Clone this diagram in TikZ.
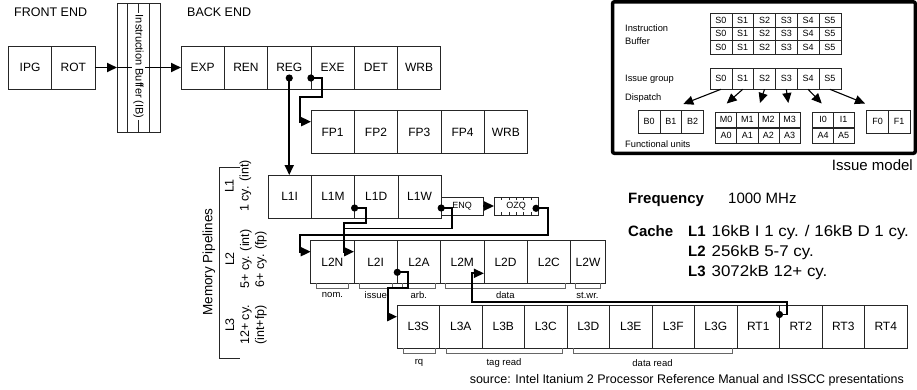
\documentclass[tikz,border=0pt]{standalone}
\usepackage{fontspec}
\setmainfont{Liberation Sans}
\newfontfamily\widesans[FakeStretch=1.09]{Liberation Sans}
\usetikzlibrary{arrows.meta,positioning}

\tikzset{
  stage/.style={draw=black!85, line width=0.8pt, minimum width=43.3pt, minimum height=43pt,
    inner sep=0pt, outer sep=0pt, font=\fontsize{12}{14}\selectfont},
  cell/.style={draw=black!85, line width=0.6pt, minimum width=21.8pt, minimum height=13.7pt,
    inner sep=0pt, outer sep=0pt, font=\fontsize{9}{10}\selectfont},
  fucell/.style={cell, minimum width=21.1pt, minimum height=15pt},
  conn/.style={line width=1.8pt, -{Triangle[length=10pt,width=9pt]}},
  link/.style={line width=1.8pt},
  dispatch/.style={line width=1.1pt, -{Triangle[length=10pt,width=9pt]}},
  steplabel/.style={font=\fontsize{9.5}{11}\selectfont, inner sep=0pt},
  spanline/.style={draw=black!60, line width=1pt},
  info/.style={font=\fontsize{15}{17}\selectfont, anchor=base west, inner sep=0pt},
  infob/.style={info, font=\fontsize{15}{17}\selectfont\bfseries},
  infow/.style={info, font=\widesans\fontsize{15.5}{17}\selectfont},
  title/.style={font=\fontsize{12.5}{14}\selectfont, anchor=west, inner sep=0pt},
  small/.style={font=\fontsize{9.3}{13.3}\selectfont, anchor=west, align=left, inner sep=0pt},
  level/.style={rotate=90, align=center, inner sep=0pt, font=\fontsize{12.5}{15}\selectfont},
}

\begin{document}
\begin{tikzpicture}[x=1pt, y=-1pt]
  \useasboundingbox (0,0) rectangle (917,389);

  \node[title] (fe) at (14,12) {FRONT END};
  \node[title] (be) at (187,12) {BACK END};

  \node[stage] (IPG) at (30,67.5) {IPG};
  \node[stage, right=0pt of IPG] (ROT) {ROT};

  \node[draw=black!85, line width=0.8pt, minimum width=43pt, minimum height=129pt, outer sep=0pt] (IB) at (138.5,67.5) {};
  \foreach \xx in {127.5,138.5,149.5}
    \draw[black!85, line width=0.8pt] (\xx,3) -- (\xx,132);

  \foreach \n [count=\i from 0] in {EXP,REN,REG,EXE,DET,WRB}
    \node[stage] (\n) at (202.65+43.3*\i,67.5) {\n};

  \draw[thin] (IB.west) -- (IB.center);
  \draw[conn] (ROT.east) -- (IB.west);
  \draw[conn] (IB.center) -- (EXP.west);
  \node[rotate=-90, fill=white, inner sep=1.5pt, font=\fontsize{11}{13}\selectfont] (IBtxt) at (138.5,66.7) {Instruction Buffer (IB)};

  \foreach \n/\t [count=\i from 0] in {FP1/FP1,FP2/FP2,FP3/FP3,FP4/FP4,FWRB/WRB}
    \node[stage] (\n) at (332.65+43.3*\i,132) {\t};

  \foreach \n [count=\i from 0] in {L1I,L1M,L1D,L1W}
    \node[stage] (\n) at (289.65+43.3*\i,196.5) {\n};
  \node[draw=black!85, line width=0.8pt, minimum width=42pt, minimum height=18pt, inner sep=0pt, outer sep=0pt,
    anchor=west, font=\fontsize{9}{10}\selectfont] (ENQ) at ([yshift=-9.5pt]L1W.east) {ENQ};
  \node[draw=black!85, line width=0.8pt, minimum width=44.3pt, minimum height=18pt, inner sep=0pt, outer sep=0pt,
    font=\fontsize{9}{10}\selectfont] (OZQ) at (516.2,206) {OZQ};
  \foreach \k in {1,...,5} {
    \draw[black!85, line width=0.6pt] (494+7.4*\k,197) -- ++(0,3);
    \draw[black!85, line width=0.6pt] (494+7.4*\k,215) -- ++(0,-3);
  }

  \foreach \n [count=\i from 0] in {L2N,L2I,L2A,L2M,L2D,L2C}
    \node[stage] (\n) at (332.35+43.3*\i,262) {\n};
  \node[stage, minimum width=35pt, right=0pt of L2C] (L2W) {L2W};
  \foreach \a/\b/\t [count=\k] in {316.7/348.3/nom., 359.3/392.3/issue, 402.7/435/arb., 445.7/565/data, 575/600/st.wr.} {
    \draw[spanline] (\a,283.3) -- (\a,288.3) -- (\b,288.3) -- (\b,283.3);
    \node[steplabel] (tagL2\k) at ({(\a+\b)/2},295) {\t};
  }

  \foreach \n [count=\i from 0] in {L3S,L3A,L3B,L3C,L3D,L3E,L3F,L3G,RT1,RT2,RT3,RT4}
    \node[stage, minimum width=42.5pt] (\n) at (418.25+42.5*\i,326.5) {\n};
  \foreach \a/\b/\t [count=\k] in {403/435/rq, 446/562/tag read, 573/732/data read} {
    \draw[spanline] (\a,348) -- (\a,353) -- (\b,353) -- (\b,348);
    \node[steplabel] (tagL3\k) at ({(\a+\b)/2},363) {\t};
  }

  \node[rotate=90, inner sep=0pt, font=\fontsize{13.5}{15}\selectfont] (mp) at (209,262) {Memory Pipelines};
  \draw[black!85, line width=0.8pt] (240,167) -- (219.3,167) -- (219.3,358) -- (240,358);
  \node[level] (lvl1) at (238,186) {L1\\1 cy. (int)};
  \node[level] (lvl2) at (246,259) {L2\\5+ cy. (int)\\6+ cy. (fp)};
  \node[level] (lvl3) at (246,325) {L3\\12+ cy.\\(int+fp)};

  \coordinate (dREG) at ([yshift=-10.5pt]REG.center);
  \coordinate (dEXE) at ([yshift=-10.5pt]EXE.west);
  \coordinate (dL1D) at ([yshift=-11.5pt]L1D.west);
  \coordinate (dL1W) at ([yshift=-11.5pt]L1W.east);
  \coordinate (dOZQ) at ([xshift=-2.3pt,yshift=-2.3pt]OZQ.east);
  \coordinate (dL2A) at ([yshift=-10.3pt]L2A.west);
  \coordinate (dRT2) at ([yshift=12pt]RT2.west);

  \draw[conn] (dREG) -- (dREG |- L1I.north);
  \draw[conn] (dEXE) -- ++(10.7,0) -- ++(0,19) -- ++(-21.7,0) |- ([yshift=10.3pt]FP1.west);
  \draw[conn] (ENQ.east) -- (OZQ.west);
  \draw[conn] (dL1D) -- ++(11,0) -- ++(0,15.3) -- ++(-22,0) |- ([yshift=10.3pt]L2I.west);
  \draw[link] (dL1W) -- ++(11,0) -- ++(0,20.5) -- (343,228.5);
  \draw[conn] (dOZQ) -- ++(11.7,0) -- ++(0,26.7) -- (300,235) |- ([yshift=10.3pt]L2N.west);
  \draw[conn] (dL2A) -- ++(11,0) -- ++(0,15.4) -- ++(-20.6,0) |- ([yshift=9.8pt]L3S.west);
  \draw[conn] (dRT2) -- ++(7.5,0) -- ++(0,-12.8) -- (471.7,301.7) |- ([yshift=-11.3pt]L2D.west);
  \foreach \d in {dREG,dEXE,dL1D,dL1W,dOZQ,dL2A,dRT2}
    \fill (\d) circle (3.6pt);

  \node[draw, line width=3.5pt, rounded corners=2pt, minimum width=302.8pt, minimum height=151.5pt,
    inner sep=0pt, outer sep=0pt] (IMbox) at (763.9,77.55) {};
  \node[small] (ibl) at (625,35) {Instruction\\Buffer};
  \node[small] (igl) at (625,79) {Issue group};
  \node[small] (dpl) at (625,97.7) {Dispatch};
  \node[small] (ful) at (625,144) {Functional units};
  \foreach \r in {0,1,2}
    \foreach \c in {0,...,5}
      \node[cell] (s\r\c) at (720.9+21.8*\c,20.15+13.7*\r) {S\c};
  \foreach \c in {0,...,5}
    \node[cell, minimum height=21pt] (g\c) at (720.9+21.8*\c,78.8) {S\c};

  \foreach \i in {0,1,2}
    \node[fucell, minimum width=21.7pt, minimum height=23.3pt] (B\i) at (649.2+21.7*\i,121.7) {B\i};
  \foreach \i in {0,...,3} {
    \node[fucell] (M\i) at (726.2+21.1*\i,119.8) {M\i};
    \node[fucell] (A\i) at (726.2+21.1*\i,135.8) {A\i};
  }
  \foreach \i in {0,1}
    \node[fucell, minimum width=20.7pt] (I\i) at (823+20.7*\i,119.8) {I\i};
  \foreach \i/\j in {0/4,1/5}
    \node[fucell, minimum width=20.7pt] (A\j) at (823+20.7*\i,135.8) {A\j};
  \foreach \i in {0,1}
    \node[fucell, minimum width=21.7pt, minimum height=23.3pt] (F\i) at (877.5+21.7*\i,121.7) {F\i};

  \coordinate (tB) at (683.3,104);
  \coordinate (tM0) at (726.7,103.5);
  \coordinate (tM2) at (760,103);
  \coordinate (tM3) at (788.3,103);
  \coordinate (tI) at (821.7,103.5);
  \coordinate (tF) at (865,103.5);
  \foreach \s/\t in {g0/tB,g1/tM0,g2/tM2,g3/tM3,g4/tI,g5/tF}
    \draw[dispatch] (\s.south) -- (\t);

  \node[info, anchor=base east] (imt) at (913,170.5) {Issue model};

  \node[infob] (frq) at (628,203.5) {Frequency};
  \node[info] (frqv) at (728,203.5) {1000 MHz};
  \node[infob] (cch) at (628,236.5) {Cache};
  \node[infob] (c1) at (688,236.5) {L1};
  \node[infow] (c1v) at (711.5,236.5) {16kB I 1 cy. / 16kB D 1 cy.};
  \node[infob] (c2) at (688,256.5) {L2};
  \node[infow] (c2v) at (711.5,256.5) {256kB 5-7 cy.};
  \node[infob] (c3) at (688,276) {L3};
  \node[infow] (c3v) at (711.5,276) {3072kB 12+ cy.};

  \node[anchor=east, inner sep=0pt, font=\fontsize{12.5}{14}\selectfont] (src) at (904,380)
    {source: Intel Itanium 2 Processor Reference Manual and ISSCC presentations};
\end{tikzpicture}
\end{document}
